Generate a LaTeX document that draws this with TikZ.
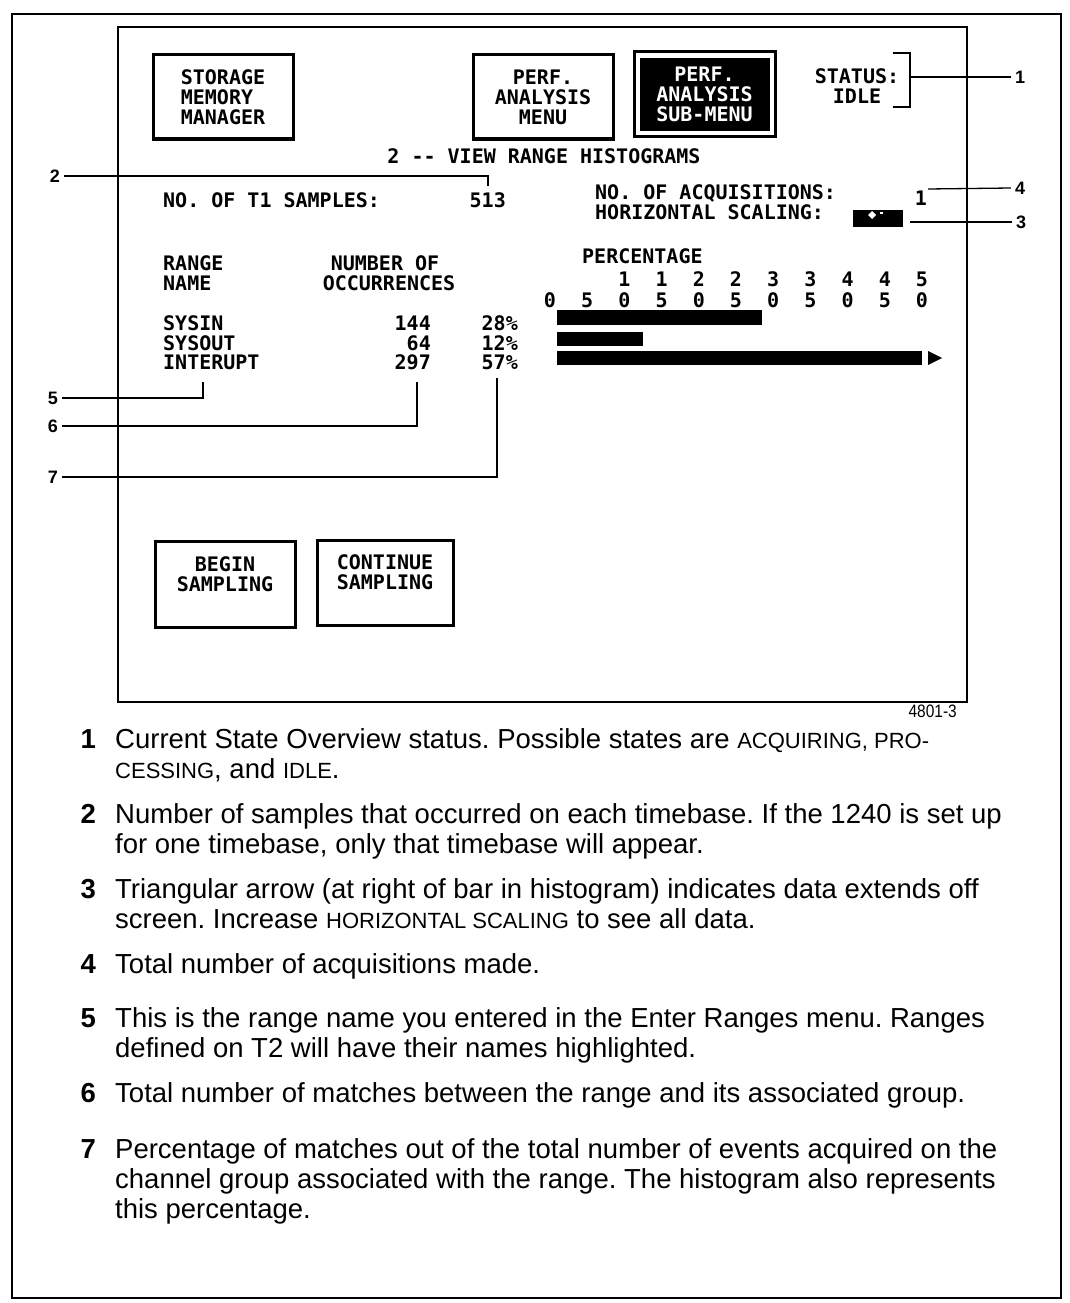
\documentclass[tikz,border=0pt]{standalone}
\usepackage{fontspec}
\setmainfont{Liberation Sans}
\newfontfamily\scrfont{DejaVu Sans Mono}
\newfontfamily\capfont{Liberation Sans}
\newfontfamily\figfont[FakeStretch=0.86]{Liberation Sans}
\newcommand{\capsm}[1]{{\fontsize{22}{30}\selectfont #1}}
\frenchspacing

\tikzset{
  scr/.style={font=\scrfont\bfseries\fontsize{20}{20}\selectfont, inner sep=0pt},
  softkey/.style={scr, draw, line width=3pt, minimum width=140pt, minimum height=84pt},
  callout/.style={font=\bfseries\fontsize{18}{18}\selectfont, inner sep=4pt},
  leader/.style={line width=1.3pt},
  capnum/.style={font=\capfont\bfseries\fontsize{27.5}{30}\selectfont, inner sep=0pt, anchor=base east},
  captext/.style={font=\capfont\fontsize{27.5}{30}\selectfont, inner sep=0pt, anchor=north west, align=left},
}

\begin{document}
\begin{tikzpicture}[x=1pt,y=-1pt]
\useasboundingbox (0,0) rectangle (1070,1303);
\draw [line width=2.5pt] (12,14) rectangle (1061,1298);
\draw [line width=1.3pt] (118,27) rectangle (967,702);

% soft keys
\node [softkey, align=left] (smm) at (223,97) {STORAGE\\MEMORY\\MANAGER};
\node [softkey, align=center] (pam) at (543,97) {PERF.\\ANALYSIS\\MENU};
\node [softkey, minimum width=141pt, minimum height=85pt] (pas) at (704.5,94.5) {};
\node [scr, fill=black, text=white, align=center, minimum width=130pt, minimum height=73pt] (pasin) at (pas.center) {PERF.\\ANALYSIS\\SUB-MENU};
\node [softkey, align=center, minimum height=86pt] (bsa) at (225,584) {BEGIN\\SAMPLING\\\mbox{}};
\node [softkey, align=center, minimum width=136pt, minimum height=85pt] (csa) at (385,582.5) {CONTINUE\\SAMPLING\\\mbox{}};

% status
\node [scr, align=center] (sts) at (857,86) {STATUS:\\IDLE};
\draw [leader] (893,53) -- (910,53) -- (910,107) -- (893,107);
\coordinate (a1) at (910,77);

\node [scr, anchor=base] (ttl) at (544,164) {2 -{}- VIEW RANGE HISTOGRAMS};
\node [scr, anchor=base west] (t1s) at (163,207) {NO. OF T1 SAMPLES:};
\node [scr, anchor=base east] (t1n) at (506,207) {513};
\node [scr, anchor=base west] (acq) at (595,199) {NO. OF ACQUISITIONS:};
\node [scr, anchor=base west] (hsc) at (595,219) {HORIZONTAL SCALING:};
\node [scr, anchor=base] (acqn) at (921,205) {1};
\node [fill=black, minimum width=50pt, minimum height=17pt, inner sep=0pt] (hsb) at (878,218) {};
\fill [white] (868,215) -- (872,211) -- (876,215) -- (872,219) -- cycle;
\fill [white] (880,212) rectangle (883,214);
\coordinate (a4) at (928,189);
\coordinate (a3) at (910,222);

% table
\node [scr, anchor=base west] (rng) at (163,270) {RANGE};
\node [scr, anchor=base west] (nam) at (163,290) {NAME};
\node [scr, anchor=base] (nbr) at (385,270) {NUMBER OF};
\node [scr, anchor=base] (occ) at (389,290) {OCCURRENCES};
\node [scr, anchor=base west] (r1) at (163,330) {SYSIN};
\node [scr, anchor=base west] (r2) at (163,350) {SYSOUT};
\node [scr, anchor=base west] (r3) at (163,369) {INTERUPT};
\node [scr, anchor=base east] (n1) at (431,330) {144};
\node [scr, anchor=base east] (n2) at (431,350) {64};
\node [scr, anchor=base east] (n3) at (431,369) {297};
\node [scr, anchor=base east] (p1) at (518,330) {28\%};
\node [scr, anchor=base east] (p2) at (518,350) {12\%};
\node [scr, anchor=base east] (p3) at (518,369) {57\%};

% histogram
\node [scr, anchor=base west] (pct) at (582,263) {PERCENTAGE};
\foreach \d [count=\i from 0] in {0,5,0,5,0,5,0,5,0,5,0}
  \node [scr, anchor=base] (lo\i) at (550+\i*37.2,307) {\d};
\foreach \d [count=\i from 2] in {1,1,2,2,3,3,4,4,5}
  \node [scr, anchor=base] (hi\i) at (550+\i*37.2,286) {\d};
\fill (557,310) rectangle (762,325);
\fill (557,332) rectangle (643,346);
\fill (557,351) rectangle (922,365);
\fill (928,351) -- (942,358) -- (928,365) -- cycle;

% callouts
\node [callout] (c1) at (1020,77) {1};
\node [callout] (c4) at (1020,188) {4};
\node [callout] (c3) at (1021,222) {3};
\node [callout] (c2) at (55,176) {2};
\node [callout] (c5) at (53,398) {5};
\node [callout] (c6) at (53,426) {6};
\node [callout] (c7) at (53,477) {7};
\coordinate (a2) at (488,186);
\coordinate (a5) at (203,382);
\coordinate (a6) at (417,382);
\coordinate (a7) at (497,378);
\draw [leader] (a1) -- (c1.west);
\draw [leader] (a4) -- (c4.west);
\draw [leader] (a3) -- (c3.west);
\draw [leader] (c2.east) -| (a2);
\draw [leader] (c5.east) -| (a5);
\draw [leader] (c6.east) -| (a6);
\draw [leader] (c7.east) -| (a7);

\node [font=\figfont\fontsize{18}{18}\selectfont, inner sep=0pt, anchor=base east] (fig) at (957,717) {4801-3};

% notes
\node [capnum] (k1) at (96,748) {1};
\node [captext] (x1) at (115,727) {\strut Current State Overview status. Possible states are \capsm{ACQUIRING, PRO-}\\\capsm{CESSING}, and \capsm{IDLE}.};
\node [capnum] (k2) at (96,823) {2};
\node [captext] (x2) at (115,802) {\strut Number of samples that occurred on each timebase. If the 1240 is set up\\for one timebase, only that timebase will appear.};
\node [capnum] (k3) at (96,898) {3};
\node [captext] (x3) at (115,877) {\strut Triangular arrow (at right of bar in histogram) indicates data extends off\\screen. Increase \capsm{HORIZONTAL SCALING} to see all data.};
\node [capnum] (k4) at (96,973) {4};
\node [captext] (x4) at (115,952) {\strut Total number of acquisitions made.};
\node [capnum] (k5) at (96,1027) {5};
\node [captext] (x5) at (115,1006) {\strut This is the range name you entered in the Enter Ranges menu. Ranges\\defined on T2 will have their names highlighted.};
\node [capnum] (k6) at (96,1102) {6};
\node [captext] (x6) at (115,1081) {\strut Total number of matches between the range and its associated group.};
\node [capnum] (k7) at (96,1158) {7};
\node [captext] (x7) at (115,1137) {\strut Percentage of matches out of the total number of events acquired on the\\channel group associated with the range. The histogram also represents\\this percentage.};

\end{tikzpicture}
\end{document}
